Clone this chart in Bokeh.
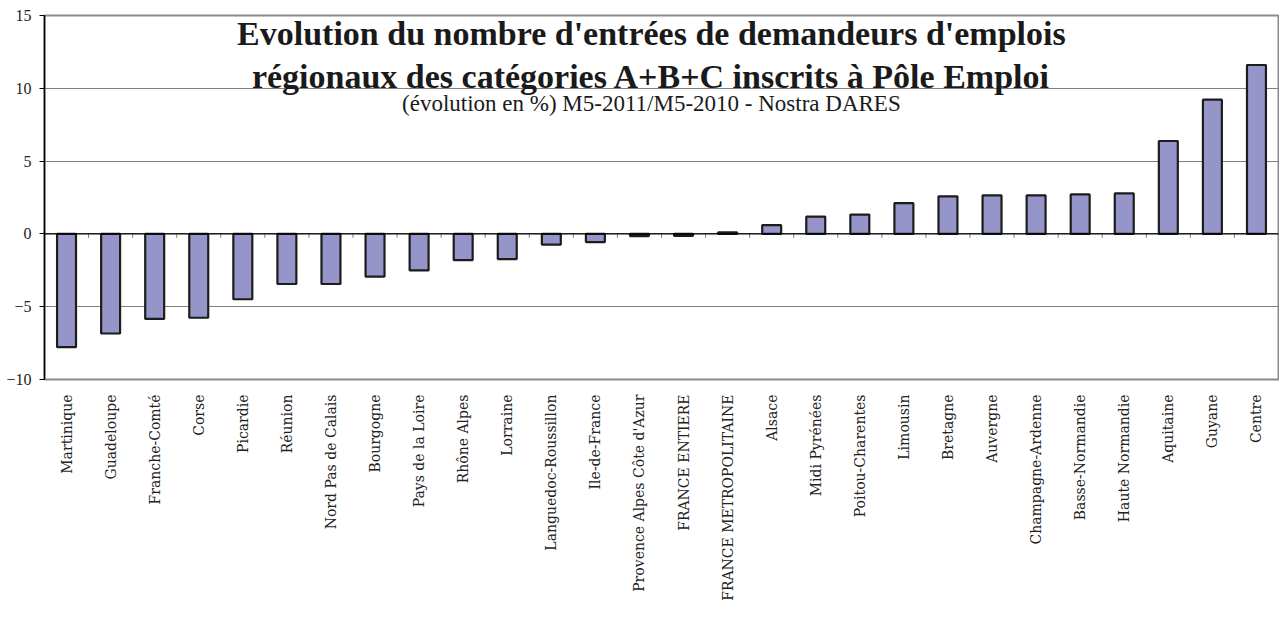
import math
from bokeh.plotting import figure
from bokeh.models import FactorRange, Range1d, FixedTicker, Label, Span, ColumnDataSource
from bokeh.transform import dodge
from bokeh.embed import file_html
from bokeh.resources import INLINE

regions = [
    "Martinique", "Guadeloupe", "Franche-Comté", "Corse", "Picardie", "Réunion",
    "Nord Pas de Calais", "Bourgogne", "Pays de la Loire", "Rhône Alpes", "Lorraine",
    "Languedoc-Roussillon", "Ile-de-France", "Provence Alpes Côte d'Azur",
    "FRANCE ENTIERE", "FRANCE METROPOLITAINE", "Alsace", "Midi Pyrénées",
    "Poitou-Charentes", "Limousin", "Bretagne", "Auvergne", "Champagne-Ardenne",
    "Basse-Normandie", "Haute Normandie", "Aquitaine", "Guyane", "Centre",
]
evolution = [
    -7.78, -6.84, -5.84, -5.76, -4.49, -3.44,
    -3.44, -2.93, -2.51, -1.80, -1.73,
    -0.73, -0.56, -0.15,
    -0.13, 0.10, 0.60, 1.18,
    1.33, 2.11, 2.58, 2.64, 2.64,
    2.71, 2.78, 6.38, 9.22, 11.60,
]
y_ticks = [-10, -5, 0, 5, 10, 15]

title_line1 = "Evolution du nombre d'entrées de demandeurs d'emplois"
title_line2 = "régionaux des catégories A+B+C inscrits à Pôle Emploi"
subtitle = "(évolution en %) M5-2011/M5-2010 - Nostra DARES"

TITLE_FONT = "Liberation Serif"
LABEL_FONT = "DejaVu Serif"

src = ColumnDataSource(dict(
    region=regions,
    evolution=evolution,
    zero=[0.0] * len(regions),
    tick=[-0.28] * len(regions),
))

p = figure(
    x_range=FactorRange(*regions, range_padding=0),
    y_range=Range1d(y_ticks[0], y_ticks[-1]),
    width=1279, height=603,
    output_backend="svg", toolbar_location=None,
    min_border_left=44, min_border_right=1, min_border_top=15, min_border_bottom=213,
)
p.background_fill_color = "white"
p.border_fill_color = "white"
p.outline_line_color = "#8c8c8c"
p.outline_line_width = 2

# grid
p.xgrid.grid_line_color = None
p.ygrid.ticker = FixedTicker(ticks=y_ticks)
p.ygrid.grid_line_color = "#808080"
p.ygrid.grid_line_width = 1

# y axis
p.yaxis.ticker = FixedTicker(ticks=y_ticks)
p.yaxis.axis_line_color = "black"
p.yaxis.axis_line_width = 1.5
p.yaxis.major_tick_line_color = "black"
p.yaxis.major_tick_out = 5
p.yaxis.major_tick_in = 0
p.yaxis.minor_tick_line_color = None
p.yaxis.major_label_text_font = TITLE_FONT
p.yaxis.major_label_text_font_size = "16px"
p.yaxis.major_label_text_color = "#222222"
p.yaxis.major_label_standoff = 8

# x axis
p.xaxis.axis_line_color = None
p.xaxis.major_tick_line_color = None
p.xaxis.minor_tick_line_color = None
p.xaxis.major_label_orientation = math.pi / 2
p.xaxis.major_label_text_font = LABEL_FONT
p.xaxis.major_label_text_font_size = "14px"
p.xaxis.major_label_text_color = "#222222"
p.xaxis.major_label_standoff = 9

# bars
p.vbar(x="region", top="evolution", bottom="zero", width=0.43, source=src,
       fill_color="#9595c9", line_color="#1c1c1c", line_width=2.2)

# zero line + category ticks on it
p.add_layout(Span(location=0, dimension="width", line_color="black", line_width=1.2))
p.segment(x0=dodge("region", -0.5, range=p.x_range), y0="zero",
          x1=dodge("region", -0.5, range=p.x_range), y1="tick",
          source=src, line_color="#808080", line_width=1)

# titles
xc = 13.77
p.add_layout(Label(x=xc, y=13.73, text=title_line1, text_font=TITLE_FONT, text_font_style="bold",
                   text_font_size="34px", text_align="center", text_baseline="alphabetic",
                   text_color="#1a1a1a"))
p.add_layout(Label(x=xc, y=10.8, text=title_line2, text_font=TITLE_FONT, text_font_style="bold",
                   text_font_size="34px", text_align="center", text_baseline="alphabetic",
                   text_color="#1a1a1a"))
p.add_layout(Label(x=xc, y=8.95, text=subtitle, text_font=TITLE_FONT,
                   text_font_size="23px", text_align="center", text_baseline="alphabetic",
                   text_color="#1a1a1a"))

open("out.html", "w").write(file_html(p, INLINE))
